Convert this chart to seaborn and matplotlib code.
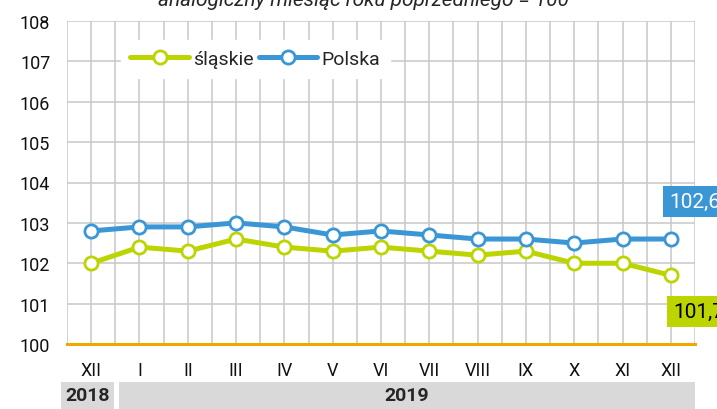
import matplotlib
matplotlib.use('Agg')
from matplotlib import pyplot as plt
from matplotlib.patches import Rectangle
from matplotlib.ticker import MultipleLocator
import matplotlib.transforms as mtransforms
import pandas as pd
import seaborn as sns

months = ['XII', 'I', 'II', 'III', 'IV', 'V', 'VI', 'VII', 'VIII', 'IX', 'X', 'XI', 'XII']
slaskie = [102.0, 102.4, 102.3, 102.6, 102.4, 102.3, 102.4, 102.3, 102.2, 102.3, 102.0, 102.0, 101.7]
polska = [102.8, 102.9, 102.9, 103.0, 102.9, 102.7, 102.8, 102.7, 102.6, 102.6, 102.5, 102.6, 102.6]
years = ['2018', '2019']
title = 'analogiczny miesiąc roku poprzedniego = 100'

green = '#bcd400'
blue = '#3a96d4'

sns.set_style('white')
plt.rcParams['font.family'] = ['Roboto', 'DejaVu Sans']

df = pd.DataFrame({'pos': range(len(months)), 'slaskie': slaskie, 'polska': polska})

fig = plt.figure(figsize=(7.17, 4.10), dpi=100)
ax = fig.add_axes([67/717, 1-345/410, (695-67)/717, (345-22)/410])

for col, name, c in [('slaskie', 'śląskie', green), ('polska', 'Polska', blue)]:
    sns.lineplot(data=df, x='pos', y=col, ax=ax, color=c, linewidth=3.6, label=name,
                 marker='o', markersize=9.5, markerfacecolor='white',
                 markeredgecolor=c, markeredgewidth=2, zorder=5, clip_on=False)

ax.set_xlim(-0.5, 12.5)
ax.set_ylim(100, 108)
ax.xaxis.set_minor_locator(MultipleLocator(0.5))
ax.set_xticks(range(len(months)))
ax.set_xticklabels(months)
ax.yaxis.set_major_locator(MultipleLocator(1))
ax.grid(True, which='both', axis='x', color='#c8c8c8', linewidth=1.1)
ax.grid(True, which='major', axis='y', color='#c8c8c8', linewidth=1.1)
ax.set_axisbelow(True)
for s in ['top', 'right', 'left']:
    ax.spines[s].set_visible(False)
ax.spines['bottom'].set_color('#f0a800')
ax.spines['bottom'].set_linewidth(2.2)
ax.spines['bottom'].set_zorder(6)
ax.tick_params(axis='both', length=0, labelsize=13, colors='#111111')
ax.tick_params(axis='x', pad=12)
ax.tick_params(axis='y', pad=12)
ax.set_xlabel('')
ax.set_ylabel('')

leg = ax.legend(loc='upper left', bbox_to_anchor=(0.07, 0.97), ncol=2, frameon=True,
                fontsize=14, handlelength=3.0, handletextpad=0.2, columnspacing=0.3,
                borderpad=0.5, fancybox=False)
leg.get_frame().set_edgecolor('white')
leg.get_frame().set_facecolor('white')
leg.get_frame().set_alpha(1)

# value labels at the last point
ax.annotate(f'{polska[-1]:.1f}'.replace('.', ','), xy=(12, polska[-1]), xytext=(-1, 27),
            textcoords='offset points', ha='left', va='center', fontsize=15, color='white',
            bbox=dict(boxstyle='square,pad=0.3', fc=blue, ec='none'), annotation_clip=False, zorder=7)
ax.annotate(f'{slaskie[-1]:.1f}'.replace('.', ','), xy=(12, slaskie[-1]), xytext=(2, -26),
            textcoords='offset points', ha='left', va='center', fontsize=15, color='black',
            bbox=dict(boxstyle='square,pad=0.3', fc=green, ec='none'), annotation_clip=False, zorder=7)

# year bands below the axis
trans = mtransforms.blended_transform_factory(ax.transData, fig.transFigure)
y0, h = 1 - 410/410, (410-383)/410
ax.add_patch(Rectangle((-0.62, y0), 1.1, h, transform=trans, fc='#d9d9d9', ec='none', clip_on=False))
ax.add_patch(Rectangle((0.58, y0), 11.92, h, transform=trans, fc='#d9d9d9', ec='none', clip_on=False))
ax.text(-0.07, y0 + h/2, years[0], transform=trans, ha='center', va='center', fontsize=14, fontweight='bold')
ax.text(6.54, y0 + h/2, years[1], transform=trans, ha='center', va='center', fontsize=14, fontweight='bold')

fig.text(363/717, 1 - 6/410, title, ha='center', va='baseline', fontsize=15, style='italic')

fig.savefig('out.png', dpi=100)
